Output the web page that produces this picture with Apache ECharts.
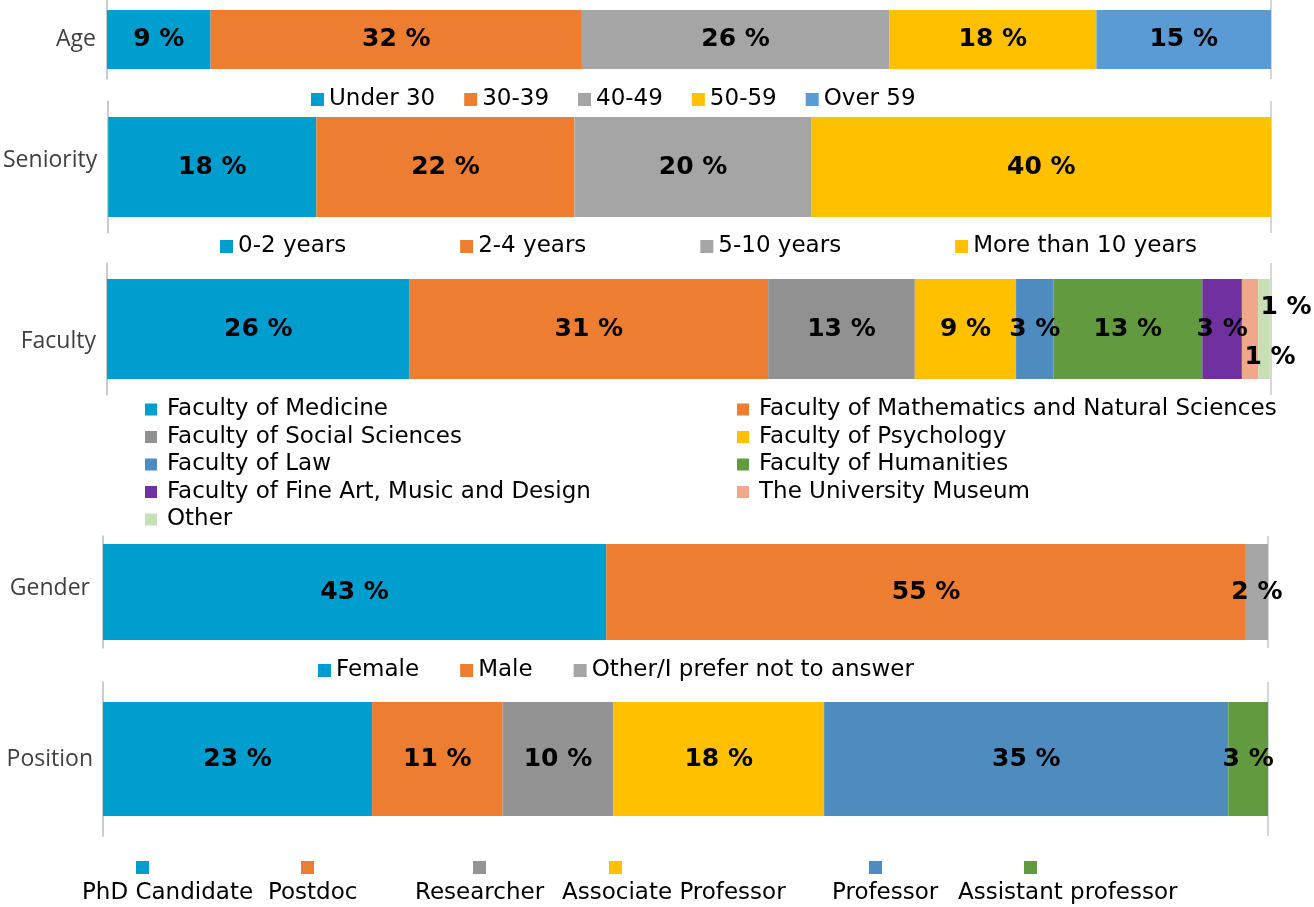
<!DOCTYPE html>
<html>
<head>
<meta charset="utf-8">
<script src="https://cdn.jsdelivr.net/npm/echarts@6/dist/echarts.min.js"></script>
<style>
  html, body { margin: 0; padding: 0; background: #fff; }
  #chart { width: 1314px; height: 907px; }
</style>
</head>
<body>
<div id="chart"></div>
<script>
var rowNames = ['Age', 'Seniority', 'Faculty', 'Gender', 'Position'];

// shares in %; labels show them rounded
var ageCats = ['Under 30', '30-39', '40-49', '50-59', 'Over 59'];
var ageValues = [8.9, 31.9, 26.4, 17.8, 15.0];

var seniorityCats = ['0-2 years', '2-4 years', '5-10 years', 'More than 10 years'];
var seniorityValues = [17.9, 22.2, 20.4, 39.5];

var facultyCats = [
  'Faculty of Medicine',
  'Faculty of Mathematics and Natural Sciences',
  'Faculty of Social Sciences',
  'Faculty of Psychology',
  'Faculty of Law',
  'Faculty of Humanities',
  'Faculty of Fine Art, Music and Design',
  'The University Museum',
  'Other'
];
var facultyValues = [26.0, 30.8, 12.6, 8.7, 3.2, 12.8, 3.4, 1.4, 1.0];

var genderCats = ['Female', 'Male', 'Other/I prefer not to answer'];
var genderValues = [43.2, 54.9, 1.9];

var positionCats = ['PhD Candidate', 'Postdoc', 'Researcher', 'Associate Professor', 'Professor', 'Assistant professor'];
var positionValues = [23.1, 11.2, 9.5, 18.1, 34.7, 3.4];

// colours
var ageColors = ['#009ECE', '#ED7D31', '#A5A5A5', '#FFC000', '#5B9BD5'];
var seniorityColors = ['#009ECE', '#ED7D31', '#A5A5A5', '#FFC000'];
var facultyColors = ['#009ECE', '#ED7D31', '#919191', '#FFC000', '#4E8BBF', '#629B3F', '#7030A0', '#F0A88C', '#C5E0B4'];
var genderColors = ['#009ECE', '#ED7D31', '#A5A5A5'];
var positionColors = ['#009ECE', '#ED7D31', '#939393', '#FFC000', '#4E8BBF', '#629B3F'];

var chart = echarts.init(document.getElementById('chart'));

var grids = [
  { left: 107, right: 43, top: 0, height: 79 },
  { left: 107, right: 43, top: 101, height: 132 },
  { left: 107, right: 43, top: 263, height: 132 },
  { left: 103, right: 46, top: 536, height: 112 },
  { left: 103, right: 46, top: 682, height: 154 }
];
var barWidths = [59, 100, 100, 96, 114];
var labelMargins = [11, 11, 11, 13, 10];
// nudge the row names up/down like in the original
var labelAligns = [['middle', 23], ['bottom', 14], ['top', 24], ['bottom', 8], ['middle', 23]];

var xAxes = grids.map(function (g, i) {
  return {
    type: 'value', gridIndex: i, min: 0, max: 100, interval: 100,
    axisLine: { show: false }, axisTick: { show: false }, axisLabel: { show: false },
    splitLine: { show: true, lineStyle: { color: '#C8C8C8', width: 1.5 } }
  };
});
var yAxes = grids.map(function (g, i) {
  return {
    type: 'category', gridIndex: i, data: [rowNames[i]],
    axisLine: { show: true, lineStyle: { color: '#C8C8C8', width: 1.5 } },
    axisTick: { show: false },
    axisLabel: {
      margin: labelMargins[i], color: '#404040', fontFamily: 'Open Sans', fontSize: 23,
      verticalAlign: labelAligns[i][0], lineHeight: labelAligns[i][1]
    }
  };
});

function makeSeries(cats, values, colors, idx, offsets) {
  return cats.map(function (name, i) {
    var item = values[i];
    if (offsets && offsets[i]) {
      item = { value: values[i], label: { offset: offsets[i] } };
    }
    return {
      name: name, type: 'bar', stack: 'row' + idx,
      xAxisIndex: idx, yAxisIndex: idx,
      barWidth: barWidths[idx],
      itemStyle: { color: colors[i] },
      label: {
        show: true, position: 'inside',
        formatter: function (p) { return Math.round(p.value) + ' %'; },
        color: '#000', fontFamily: 'DejaVu Sans', fontWeight: 'bold', fontSize: 25
      },
      emphasis: { disabled: true },
      data: [item]
    };
  });
}

var facultyOffsets = { 7: [20, 28], 8: [22, -22] };

var series = []
  .concat(makeSeries(ageCats, ageValues, ageColors, 0))
  .concat(makeSeries(seniorityCats, seniorityValues, seniorityColors, 1))
  .concat(makeSeries(facultyCats, facultyValues, facultyColors, 2, facultyOffsets))
  .concat(makeSeries(genderCats, genderValues, genderColors, 3))
  .concat(makeSeries(positionCats, positionValues, positionColors, 4));

var legendText = { fontFamily: 'DejaVu Sans', fontSize: 23, color: '#000', lineHeight: 23 };
var facultyText = {
  rich: {
    g: { width: 5 },
    t: { fontFamily: 'DejaVu Sans', fontSize: 23, color: '#000', lineHeight: 23 }
  }
};
function facultyFormatter(n) { return '{g|}{t|' + n + '}'; }

var legends = [
  { data: ageCats, left: 311, top: 88, itemGap: 29, textStyle: legendText },
  { data: seniorityCats, left: 220, top: 235, itemGap: 114, textStyle: legendText },
  {
    data: facultyCats.filter(function (d, i) { return i % 2 === 0; }),
    left: 145, top: 398, orient: 'vertical', itemGap: 4.5, itemWidth: 12, itemHeight: 12,
    formatter: facultyFormatter, textStyle: facultyText
  },
  {
    data: facultyCats.filter(function (d, i) { return i % 2 === 1; }),
    left: 737, top: 398, orient: 'vertical', itemGap: 4.5, itemWidth: 12, itemHeight: 12,
    formatter: facultyFormatter, textStyle: facultyText
  },
  { data: genderCats, left: 318, top: 659, itemGap: 41, textStyle: legendText }
].map(function (l) {
  return Object.assign({ icon: 'rect', itemWidth: 13, itemHeight: 13, padding: 0, selectedMode: false }, l);
});

// position legend: swatch above the text
var posTextLeft = [82, 268, 415, 562, 832, 958];
var posIconLeft = [136, 301, 473, 609, 869, 1024];
positionCats.forEach(function (name, i) {
  var rich = {
    s: { width: posIconLeft[i] - posTextLeft[i], height: 13 },
    c: { width: 13, height: 13, backgroundColor: positionColors[i] },
    t: { fontFamily: 'DejaVu Sans', fontSize: 23, color: '#000', lineHeight: 23, padding: [16, 0, 0, 0] }
  };
  legends.push({
    data: [name], left: posTextLeft[i] - 5, top: 861, padding: 0,
    icon: 'rect', itemWidth: 0, itemHeight: 0, selectedMode: false,
    formatter: function (n) { return '{s|}{c|}\n{t|' + n + '}'; },
    textStyle: { rich: rich }
  });
});

chart.setOption({
  animation: false,
  backgroundColor: '#fff',
  grid: grids,
  xAxis: xAxes,
  yAxis: yAxes,
  legend: legends,
  series: series
});
</script>
</body>
</html>
